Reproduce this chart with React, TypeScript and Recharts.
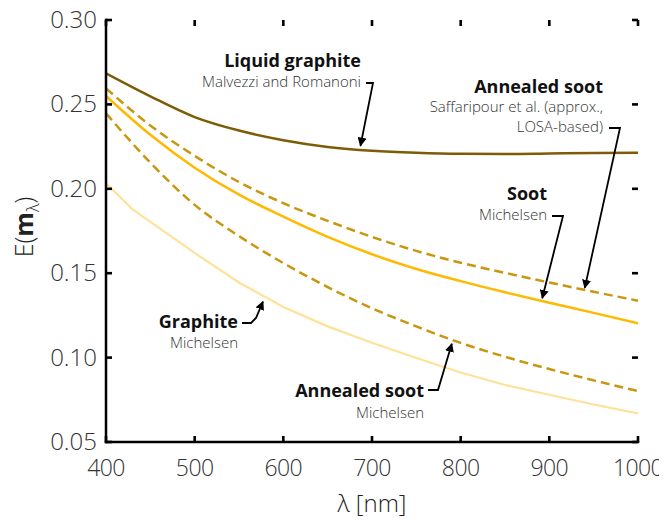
import { Line, LineChart, XAxis, YAxis } from "recharts";

// Wavelength grid (nm) shared by the smooth curves
const wavelengths = [400, 450, 500, 550, 600, 650, 700, 750, 800, 850, 900, 950, 1000];
const liquidGraphite = [0.2684, 0.2548, 0.2425, 0.2345, 0.2288, 0.2248, 0.2225, 0.2213, 0.2207, 0.2206, 0.2209, 0.2212, 0.2213];
const annealedSaffaripour = [0.2595, 0.2375, 0.2195, 0.204, 0.1915, 0.181, 0.1715, 0.1632, 0.1562, 0.1502, 0.1445, 0.139, 0.1337];
const sootMichelsen = [0.255, 0.232, 0.2125, 0.1965, 0.1835, 0.1715, 0.1612, 0.1525, 0.1453, 0.1387, 0.1325, 0.1265, 0.1203];
const annealedMichelsen = [0.2447, 0.2155, 0.1905, 0.172, 0.156, 0.1418, 0.1292, 0.1185, 0.1087, 0.1005, 0.0932, 0.0865, 0.0802];

// Graphite (Michelsen) is tabulated on its own grid
const graphiteWavelengths = [400, 430, 500, 550, 600, 650, 700, 750, 800, 850, 900, 950, 1000];
const graphiteMichelsen = [0.2033, 0.1878, 0.162, 0.1445, 0.13, 0.1185, 0.1088, 0.0998, 0.0912, 0.0838, 0.078, 0.0722, 0.067];

const xTicks = [400, 500, 600, 700, 800, 900, 1000];
const yTicks = [0.05, 0.1, 0.15, 0.2, 0.25, 0.3];
const X_DOMAIN: [number, number] = [400, 1000];
const Y_DOMAIN: [number, number] = [0.05, 0.3];

const W = 667;
const H = 524;
const PLOT = { left: 106, top: 20, right: 638, bottom: 442 };
const Y_AXIS_W = 100;
const X_AXIS_H = 50;
const TICK_LEN = 6;
const TICK_W = 2.6;

const FONT = '"Open Sans", "DejaVu Sans", sans-serif';

const toSeries = (xs: number[], ys: number[]) => xs.map((x, i) => ({ x, y: ys[i] }));

// pixel helpers for the overlay (same domains as the axes)
const px = (x: number) =>
  PLOT.left + ((x - X_DOMAIN[0]) / (X_DOMAIN[1] - X_DOMAIN[0])) * (PLOT.right - PLOT.left);
const py = (y: number) =>
  PLOT.bottom - ((y - Y_DOMAIN[0]) / (Y_DOMAIN[1] - Y_DOMAIN[0])) * (PLOT.bottom - PLOT.top);

type Note = {
  title: string;
  lines: string[];
  anchorX: number;
  titleY: number;
  lineYs: number[];
  arrow: [number, number][];
  tip: [number, number];
};

const notes: Note[] = [
  {
    title: "Liquid graphite",
    lines: ["Malvezzi and Romanoni"],
    anchorX: 361,
    titleY: 67,
    lineYs: [87],
    arrow: [[366, 83], [373, 83]],
    tip: [687, 0.2255],
  },
  {
    title: "Annealed soot",
    lines: ["Saffaripour et al. (approx.,", "LOSA-based)"],
    anchorX: 603,
    titleY: 93,
    lineYs: [112, 132],
    arrow: [[609, 128], [620, 128]],
    tip: [940, 0.1413],
  },
  {
    title: "Soot",
    lines: ["Michelsen"],
    anchorX: 547,
    titleY: 200,
    lineYs: [220],
    arrow: [[552, 216], [563, 216]],
    tip: [892, 0.1352],
  },
  {
    title: "Graphite",
    lines: ["Michelsen"],
    anchorX: 238,
    titleY: 328,
    lineYs: [348],
    arrow: [[242, 323], [251, 323], [256, 318]],
    tip: [577, 0.1332],
  },
  {
    title: "Annealed soot",
    lines: ["Michelsen"],
    anchorX: 424,
    titleY: 397,
    lineYs: [418],
    arrow: [[428, 390], [438, 390]],
    tip: [790, 0.1082],
  },
];

function Overlay() {
  return (
    <svg
      width={W}
      height={H}
      style={{ position: "absolute", left: 0, top: 0, pointerEvents: "none" }}
    >
      <defs>
        <marker
          id="arrowHead"
          viewBox="0 0 10 10"
          refX="9"
          refY="5"
          markerWidth="5"
          markerHeight="5"
          markerUnits="strokeWidth"
          orient="auto"
        >
          <path d="M0,0 L10,5 L0,10 Z" fill="#000" />
        </marker>
      </defs>

      {/* inward tick marks on all four sides of the frame */}
      <g fill="#000">
        {xTicks.map((t) => (
          <rect key={`xb${t}`} x={px(t) - TICK_W / 2} y={PLOT.bottom - TICK_LEN} width={TICK_W} height={TICK_LEN} />
        ))}
        {xTicks.map((t) => (
          <rect key={`xt${t}`} x={px(t) - TICK_W / 2} y={PLOT.top} width={TICK_W} height={TICK_LEN} />
        ))}
        {yTicks.map((t) => (
          <rect key={`yl${t}`} x={PLOT.left} y={py(t) - TICK_W / 2} width={TICK_LEN} height={TICK_W} />
        ))}
        {yTicks.map((t) => (
          <rect key={`yr${t}`} x={PLOT.right - TICK_LEN} y={py(t) - TICK_W / 2} width={TICK_LEN} height={TICK_W} />
        ))}
      </g>

      {notes.map((n, i) => {
        const pts = [...n.arrow, [px(n.tip[0]), py(n.tip[1])]];
        return (
          <g key={i} fontFamily={FONT} textAnchor="end">
            <text x={n.anchorX} y={n.titleY} fontSize={18} fontWeight={700} fill="#111">
              {n.title}
            </text>
            {n.lines.map((t, j) => (
              <text key={j} x={n.anchorX} y={n.lineYs[j]} fontSize={15} fontWeight={300} fill="#333">
                {t}
              </text>
            ))}
            <polyline
              points={pts.map((p) => p.join(",")).join(" ")}
              fill="none"
              stroke="#000"
              strokeWidth={1.8}
              markerEnd="url(#arrowHead)"
            />
          </g>
        );
      })}

      {/* axis titles */}
      <text
        transform="translate(33, 227) rotate(-90)"
        textAnchor="middle"
        fontFamily={FONT}
        fontSize={25}
        fontWeight={300}
        fill="#222"
      >
        E(<tspan fontWeight={700}>m</tspan>
        <tspan fontSize={17} dy={6}>λ</tspan>
        <tspan dy={-6}>)</tspan>
      </text>
      <text
        x={(PLOT.left + PLOT.right) / 2}
        y={512}
        textAnchor="middle"
        fontFamily={FONT}
        fontSize={24}
        fontWeight={300}
        fill="#222"
      >
        λ [nm]
      </text>
    </svg>
  );
}

const axisLine = { stroke: "#000", strokeWidth: 2.5, strokeLinecap: "square" as const };
const labelStyle = { fill: "#333", fontFamily: FONT, fontWeight: 300 };

const BottomLabel = (props: any) => (
  <text
    x={props.x}
    y={PLOT.bottom + 18}
    dy="0.71em"
    textAnchor="middle"
    fontSize={23}
    letterSpacing={-0.6}
    {...labelStyle}
  >
    {props.payload.value}
  </text>
);
const LeftLabel = (props: any) => (
  <text x={PLOT.left - 9} y={props.y} dy="0.33em" textAnchor="end" fontSize={24} {...labelStyle}>
    {Number(props.payload.value).toFixed(2)}
  </text>
);

export default function App() {
  return (
    <div style={{ position: "relative", width: W, height: H, margin: -8, background: "#fff" }}>
      <LineChart
        width={W}
        height={H}
        margin={{
          top: PLOT.top,
          right: W - PLOT.right,
          bottom: H - PLOT.bottom - X_AXIS_H,
          left: PLOT.left - Y_AXIS_W,
        }}
      >
        <XAxis
          dataKey="x"
          type="number"
          domain={X_DOMAIN}
          ticks={xTicks}
          allowDataOverflow
          height={X_AXIS_H}
          axisLine={axisLine}
          tickLine={false}
          tickSize={0}
          tick={BottomLabel}
          interval={0}
        />
        <XAxis
          xAxisId="top"
          orientation="top"
          dataKey="x"
          type="number"
          domain={X_DOMAIN}
          allowDataOverflow
          height={0}
          axisLine={axisLine}
          tickLine={false}
          tick={false}
        />
        <YAxis
          type="number"
          domain={Y_DOMAIN}
          ticks={yTicks}
          allowDataOverflow
          width={Y_AXIS_W}
          axisLine={axisLine}
          tickLine={false}
          tickSize={0}
          tick={LeftLabel}
          interval={0}
        />
        <YAxis
          yAxisId="right"
          orientation="right"
          type="number"
          domain={Y_DOMAIN}
          allowDataOverflow
          width={0}
          axisLine={axisLine}
          tickLine={false}
          tick={false}
        />
        <Line
          data={toSeries(graphiteWavelengths, graphiteMichelsen)}
          dataKey="y"
          type="linear"
          stroke="#ffe29a"
          strokeWidth={2.2}
          dot={false}
          isAnimationActive={false}
        />
        <Line
          data={toSeries(wavelengths, annealedMichelsen)}
          dataKey="y"
          type="monotone"
          stroke="#c8960f"
          strokeWidth={2.5}
          strokeDasharray="9 5"
          dot={false}
          isAnimationActive={false}
        />
        <Line
          data={toSeries(wavelengths, sootMichelsen)}
          dataKey="y"
          type="monotone"
          stroke="#ffb900"
          strokeWidth={2.5}
          dot={false}
          isAnimationActive={false}
        />
        <Line
          data={toSeries(wavelengths, annealedSaffaripour)}
          dataKey="y"
          type="monotone"
          stroke="#c8960f"
          strokeWidth={2.5}
          strokeDasharray="9 5"
          dot={false}
          isAnimationActive={false}
        />
        <Line
          data={toSeries(wavelengths, liquidGraphite)}
          dataKey="y"
          type="monotone"
          stroke="#7d5c05"
          strokeWidth={2.5}
          dot={false}
          isAnimationActive={false}
        />
      </LineChart>
      <Overlay />
    </div>
  );
}
